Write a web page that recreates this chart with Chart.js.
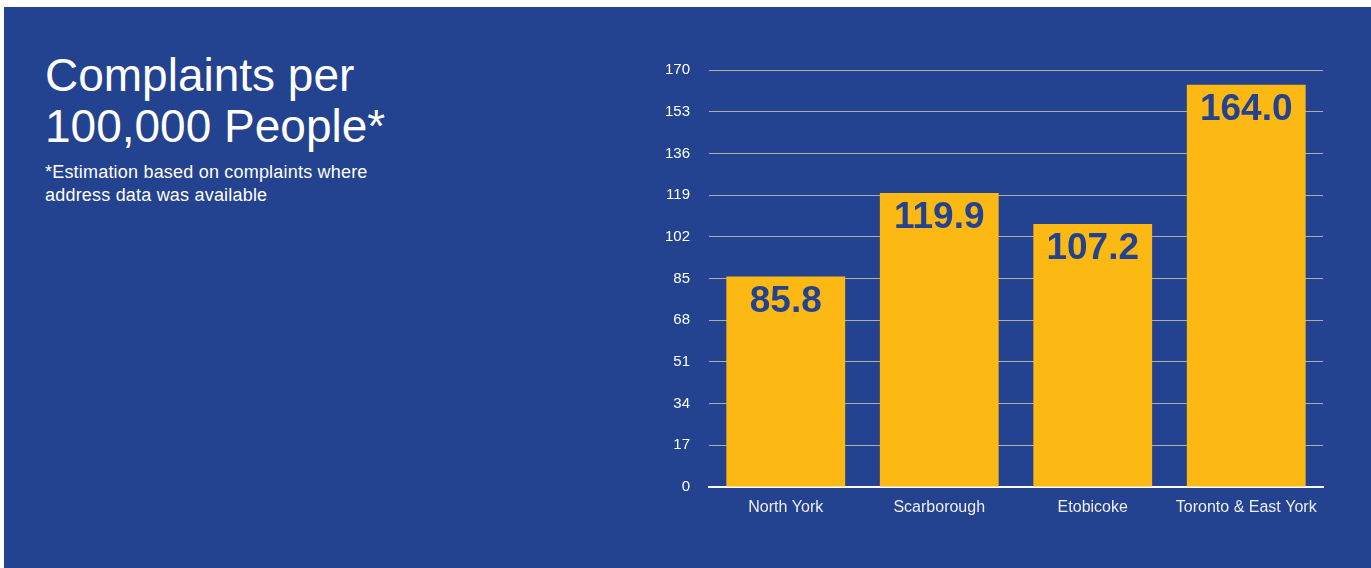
<!DOCTYPE html>
<html>
<head>
<meta charset="utf-8">
<script src="https://cdn.jsdelivr.net/npm/chart.js@4"></script>
<style>
  body { margin: 0; background: #ffffff; width: 1371px; height: 568px; overflow: hidden; position: relative; font-family: "Liberation Sans", Arial, sans-serif; }
  #panel { position: absolute; left: 4px; top: 7px; width: 1367px; height: 561px; background: #23428f; }
  #title { position: absolute; left: 45px; top: 50px; color: #fff; font-size: 46px; line-height: 51px; }
  #note { position: absolute; left: 45px; top: 161px; color: #fff; font-size: 18px; line-height: 23px; letter-spacing: 0.2px; }
  #wrap { position: absolute; left: 0; top: 0; width: 1371px; height: 568px; }
</style>
</head>
<body>
<div id="panel"></div>
<div id="title">Complaints per<br>100,000 People*</div>
<div id="note">*Estimation based on complaints where<br>address data was available</div>
<div id="wrap"><canvas id="chart"></canvas></div>
<script>
var districts = ["North York", "Scarborough", "Etobicoke", "Toronto & East York"];
var complaintsPer100k = [85.8, 119.9, 107.2, 164.0];
var yTicks = [0, 17, 34, 51, 68, 85, 102, 119, 136, 153, 170];

var barLabels = {
    id: 'barLabels',
    afterDatasetsDraw: function(chart) {
        var ctx = chart.ctx;
        var meta = chart.getDatasetMeta(0);
        ctx.save();
        ctx.fillStyle = '#23428f';
        ctx.font = 'bold 37px "Liberation Sans", Arial, sans-serif';
        ctx.textAlign = 'center';
        ctx.textBaseline = 'middle';
        meta.data.forEach(function(bar, i) {
            ctx.fillText(complaintsPer100k[i].toFixed(1), bar.x, bar.y + 25);
        });
        ctx.restore();
    }
};

var ctx = document.getElementById("chart").getContext('2d');
var myChart = new Chart(ctx, {
    type: 'bar',
    data: {
        labels: districts,
        datasets: [{
            data: complaintsPer100k,
            backgroundColor: "#fdb913",
            barPercentage: 0.774,
            categoryPercentage: 1
        }]
    },
    options: {
        responsive: true,
        maintainAspectRatio: false,
        animation: false,
        layout: { padding: { left: 641, top: 70, right: 48, bottom: 41 } },
        plugins: { legend: { display: false }, tooltip: { enabled: false } },
        scales: {
            x: {
                grid: { display: false },
                border: { color: '#ffffff', width: 2 },
                ticks: { color: '#eeeef4', font: { size: 16, family: '"Liberation Sans", Arial, sans-serif' }, padding: 3, maxRotation: 0 },
                afterFit: function(scale) { scale.height = 40; }
            },
            y: {
                min: 0,
                max: 170,
                afterBuildTicks: function(scale) {
                    scale.ticks = yTicks.map(function(v) { return { value: v }; });
                },
                grid: {
                    drawTicks: false,
                    color: function(c) { return c.tick && c.tick.value === 0 ? 'rgba(0,0,0,0)' : '#aeaea6'; },
                    lineWidth: 1
                },
                border: { display: false },
                ticks: { color: '#ffffff', font: { size: 15, family: '"Liberation Sans", Arial, sans-serif' }, padding: 19 },
                afterFit: function(scale) { scale.width = 68; }
            }
        }
    },
    plugins: [barLabels]
});
</script>
</body>
</html>
